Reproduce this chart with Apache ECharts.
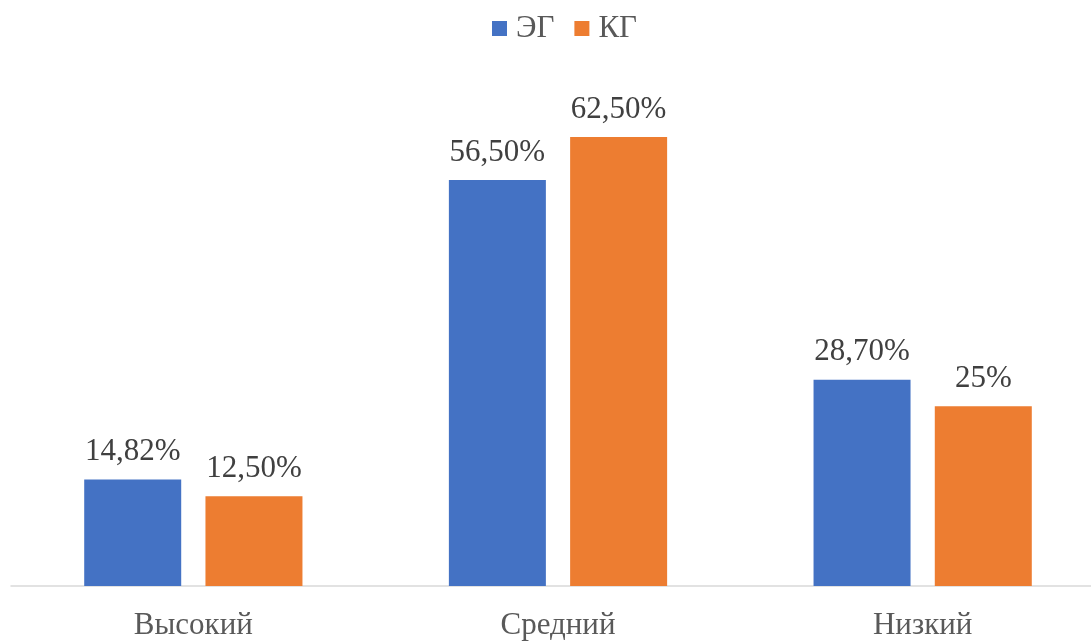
<!DOCTYPE html>
<html><head><meta charset="utf-8">
<script src="https://cdn.jsdelivr.net/npm/echarts@6/dist/echarts.min.js"></script>
<style>html,body{margin:0;padding:0;background:#fff}#c{width:1091px;height:642px}</style>
</head><body><div id="c"></div>
<script>
const categories = ['Высокий', 'Средний', 'Низкий'];
const seriesNames = ['ЭГ', 'КГ'];
const egValues = [14.82, 56.50, 28.70];
const kgValues = [12.50, 62.50, 25];
const egLabels = ['14,82%', '56,50%', '28,70%'];
const kgLabels = ['12,50%', '62,50%', '25%'];

const FONT = 'Liberation Serif';
const chart = echarts.init(document.getElementById('c'));
function mkSeries(name, vals, labels, color) {
  return {
    name: name, type: 'bar', barWidth: 97, barGap: '25%',
    itemStyle: { color: color },
    data: vals,
    label: {
      show: true, position: 'top', distance: 12,
      formatter: p => labels[p.dataIndex],
      fontFamily: FONT, fontSize: 31, color: '#404040'
    }
  };
}
chart.setOption({
  animation: false,
  legend: {
    top: 13, left: 492, padding: 0, itemWidth: 15, itemHeight: 15, itemGap: 20,
    icon: 'rect',
    textStyle: { fontFamily: FONT, fontSize: 31, color: '#595959', padding: [0,0,0,4] },
    data: seriesNames
  },
  grid: { left: 11, top: 83, width: 1094, height: 503, containLabel: false, outerBoundsMode: 'none' },
  xAxis: {
    type: 'category', data: categories,
    axisLine: { lineStyle: { color: '#d9d9d9', width: 1.5 } },
    axisTick: { show: false },
    axisLabel: { fontFamily: FONT, fontSize: 31, color: '#595959', margin: 24 }
  },
  yAxis: { type: 'value', min: 0, max: 70, show: false, splitLine: { show: false } },
  series: [
    mkSeries(seriesNames[0], egValues, egLabels, '#4472c4'),
    mkSeries(seriesNames[1], kgValues, kgLabels, '#ed7d31')
  ]
});
</script></body></html>
